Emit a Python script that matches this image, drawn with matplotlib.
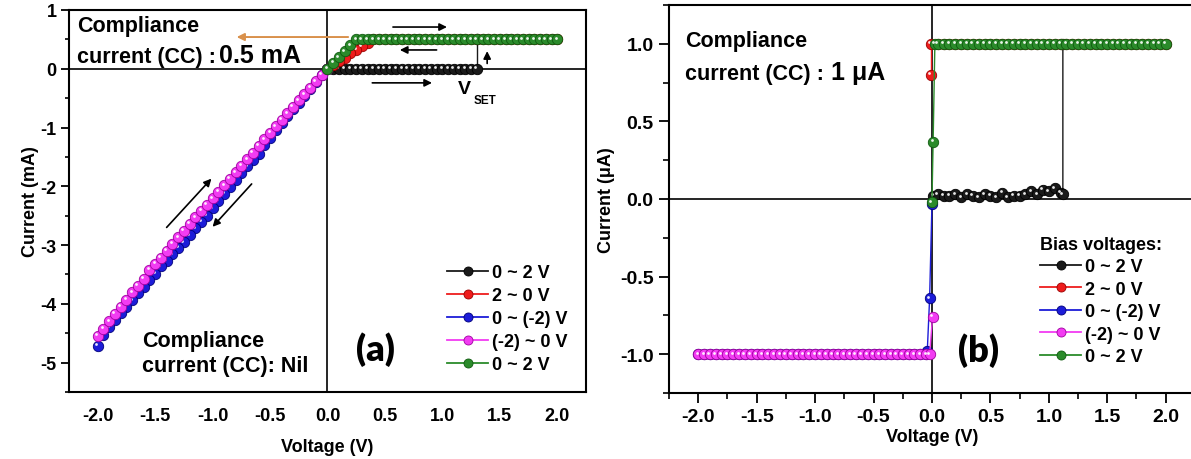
import matplotlib
matplotlib.use('Agg')
import matplotlib.pyplot as plt
from matplotlib.lines import Line2D
from matplotlib.ticker import MultipleLocator
from matplotlib.transforms import offset_copy

plt.rcParams['font.family'] = ['Liberation Sans', 'DejaVu Sans']
plt.rcParams['font.weight'] = 'bold'
plt.rcParams['axes.labelweight'] = 'bold'

# ---------------- data ----------------
sweep_labels = ['0 ~ 2 V', '2 ~ 0 V', '0 ~ (-2) V', '(-2) ~ 0 V', '0 ~ 2 V']
colors = ['#1a1a1a', '#ee1c1c', '#1c1cd8', '#f23cf2', '#2b8b2b']
edge_colors = ['#000000', '#9a0000', '#00007a', '#a000a0', '#0f5a0f']

# panel (a): current in mA, compliance 0.5 mA
a_black_v = [0.00, 0.05, 0.10, 0.15, 0.20, 0.25, 0.30, 0.35, 0.40, 0.45, 0.50, 0.55, 0.60, 0.65,
             0.70, 0.75, 0.80, 0.85, 0.90, 0.95, 1.00, 1.05, 1.10, 1.15, 1.20, 1.25, 1.30, 1.30]
a_black_i = [0.00, 0.00, 0.00, 0.00, 0.00, 0.00, 0.00, 0.00, 0.00, 0.00, 0.00, 0.00, 0.00, 0.00,
             0.00, 0.00, 0.00, 0.00, 0.00, 0.00, 0.00, 0.00, 0.00, 0.00, 0.00, 0.00, 0.00, 0.50]

a_red_v = [2.00, 1.95, 1.90, 1.85, 1.80, 1.75, 1.70, 1.65, 1.60, 1.55, 1.50, 1.45, 1.40, 1.35,
           1.30, 1.25, 1.20, 1.15, 1.10, 1.05, 1.00, 0.95, 0.90, 0.85, 0.80, 0.75, 0.70, 0.65,
           0.60, 0.55, 0.50, 0.45, 0.40, 0.35, 0.30, 0.25, 0.20, 0.15, 0.10, 0.05, 0.00]
a_red_i = [0.50, 0.50, 0.50, 0.50, 0.50, 0.50, 0.50, 0.50, 0.50, 0.50, 0.50, 0.50, 0.50, 0.50,
           0.50, 0.50, 0.50, 0.50, 0.50, 0.50, 0.50, 0.50, 0.50, 0.50, 0.50, 0.50, 0.50, 0.50,
           0.50, 0.50, 0.50, 0.50, 0.50, 0.44, 0.38, 0.32, 0.26, 0.19, 0.13, 0.06, 0.00]

a_blue_v = [0.00, -0.05, -0.10, -0.15, -0.20, -0.25, -0.30, -0.35, -0.40, -0.45, -0.50, -0.55,
            -0.60, -0.65, -0.70, -0.75, -0.80, -0.85, -0.90, -0.95, -1.00, -1.05, -1.10, -1.15,
            -1.20, -1.25, -1.30, -1.35, -1.40, -1.45, -1.50, -1.55, -1.60, -1.65, -1.70, -1.75,
            -1.80, -1.85, -1.90, -1.95, -2.00]
a_blue_i = [0.00, -0.11, -0.23, -0.34, -0.46, -0.58, -0.69, -0.80, -0.93, -1.05, -1.17, -1.29,
            -1.45, -1.55, -1.66, -1.77, -1.90, -2.02, -2.13, -2.25, -2.37, -2.50, -2.60, -2.71,
            -2.83, -2.95, -3.05, -3.16, -3.27, -3.36, -3.49, -3.60, -3.72, -3.82, -3.94, -4.05,
            -4.16, -4.28, -4.40, -4.53, -4.71]

a_mag_v = [-2.00, -1.95, -1.90, -1.85, -1.80, -1.75, -1.70, -1.65, -1.60, -1.55, -1.50, -1.45,
           -1.40, -1.35, -1.30, -1.25, -1.20, -1.15, -1.10, -1.05, -1.00, -0.95, -0.90, -0.85,
           -0.80, -0.75, -0.70, -0.65, -0.60, -0.55, -0.50, -0.45, -0.40, -0.35, -0.30, -0.25,
           -0.20, -0.15, -0.10, -0.05, 0.00]
a_mag_i = [-4.54, -4.42, -4.30, -4.17, -4.05, -3.93, -3.80, -3.69, -3.57, -3.42, -3.32, -3.22,
           -3.10, -2.98, -2.87, -2.76, -2.64, -2.53, -2.42, -2.31, -2.20, -2.09, -1.98, -1.87,
           -1.76, -1.65, -1.54, -1.43, -1.31, -1.20, -1.09, -0.98, -0.87, -0.76, -0.65, -0.54,
           -0.43, -0.32, -0.21, -0.10, 0.00]

a_green_v = [0.00, 0.05, 0.10, 0.15, 0.20, 0.25, 0.30, 0.35, 0.40, 0.45, 0.50, 0.55, 0.60, 0.65,
             0.70, 0.75, 0.80, 0.85, 0.90, 0.95, 1.00, 1.05, 1.10, 1.15, 1.20, 1.25, 1.30, 1.35,
             1.40, 1.45, 1.50, 1.55, 1.60, 1.65, 1.70, 1.75, 1.80, 1.85, 1.90, 1.95, 2.00]
a_green_i = [0.00, 0.10, 0.20, 0.30, 0.40, 0.50, 0.50, 0.50, 0.50, 0.50, 0.50, 0.50, 0.50, 0.50,
             0.50, 0.50, 0.50, 0.50, 0.50, 0.50, 0.50, 0.50, 0.50, 0.50, 0.50, 0.50, 0.50, 0.50,
             0.50, 0.50, 0.50, 0.50, 0.50, 0.50, 0.50, 0.50, 0.50, 0.50, 0.50, 0.50, 0.50]

# panel (b): current in uA, compliance 1 uA
b_black_v = [0.01, 0.05, 0.10, 0.15, 0.20, 0.25, 0.30, 0.35, 0.40, 0.45, 0.50, 0.55, 0.60,
             0.65, 0.70, 0.75, 0.80, 0.85, 0.90, 0.95, 1.00, 1.05, 1.10, 1.12, 1.12]
b_black_i = [0.02, 0.03, 0.02, 0.02, 0.03, 0.01, 0.03, 0.02, 0.01, 0.03, 0.02, 0.01, 0.04,
             0.01, 0.02, 0.02, 0.03, 0.05, 0.03, 0.06, 0.05, 0.07, 0.04, 0.03, 1.00]

b_red_v = [2.00, 1.95, 1.90, 1.85, 1.80, 1.75, 1.70, 1.65, 1.60, 1.55, 1.50, 1.45, 1.40, 1.35,
           1.30, 1.25, 1.20, 1.15, 1.10, 1.05, 1.00, 0.95, 0.90, 0.85, 0.80, 0.75, 0.70, 0.65,
           0.60, 0.55, 0.50, 0.45, 0.40, 0.35, 0.30, 0.25, 0.20, 0.15, 0.10, 0.05, -0.01, -0.01]
b_red_i = [1.00, 1.00, 1.00, 1.00, 1.00, 1.00, 1.00, 1.00, 1.00, 1.00, 1.00, 1.00, 1.00, 1.00,
           1.00, 1.00, 1.00, 1.00, 1.00, 1.00, 1.00, 1.00, 1.00, 1.00, 1.00, 1.00, 1.00, 1.00,
           1.00, 1.00, 1.00, 1.00, 1.00, 1.00, 1.00, 1.00, 1.00, 1.00, 1.00, 1.00, 1.00, 0.80]

b_blue_v = [0.00, -0.02, -0.04, -0.05, -0.10, -0.15, -0.20, -0.25, -0.30, -0.35, -0.40, -0.45,
            -0.50, -0.55, -0.60, -0.65, -0.70, -0.75, -0.80, -0.85, -0.90, -0.95, -1.00, -1.05,
            -1.10, -1.15, -1.20, -1.25, -1.30, -1.35, -1.40, -1.45, -1.50, -1.55, -1.60, -1.65,
            -1.70, -1.75, -1.80, -1.85, -1.90, -1.95, -2.00]
b_blue_i = [-0.03, -0.64, -0.98, -1.00, -1.00, -1.00, -1.00, -1.00, -1.00, -1.00, -1.00, -1.00,
            -1.00, -1.00, -1.00, -1.00, -1.00, -1.00, -1.00, -1.00, -1.00, -1.00, -1.00, -1.00,
            -1.00, -1.00, -1.00, -1.00, -1.00, -1.00, -1.00, -1.00, -1.00, -1.00, -1.00, -1.00,
            -1.00, -1.00, -1.00, -1.00, -1.00, -1.00, -1.00]

b_mag_v = [-2.00, -1.95, -1.90, -1.85, -1.80, -1.75, -1.70, -1.65, -1.60, -1.55, -1.50, -1.45,
           -1.40, -1.35, -1.30, -1.25, -1.20, -1.15, -1.10, -1.05, -1.00, -0.95, -0.90, -0.85,
           -0.80, -0.75, -0.70, -0.65, -0.60, -0.55, -0.50, -0.45, -0.40, -0.35, -0.30, -0.25,
           -0.20, -0.15, -0.10, -0.05, -0.02, 0.005]
b_mag_i = [-1.00, -1.00, -1.00, -1.00, -1.00, -1.00, -1.00, -1.00, -1.00, -1.00, -1.00, -1.00,
           -1.00, -1.00, -1.00, -1.00, -1.00, -1.00, -1.00, -1.00, -1.00, -1.00, -1.00, -1.00,
           -1.00, -1.00, -1.00, -1.00, -1.00, -1.00, -1.00, -1.00, -1.00, -1.00, -1.00, -1.00,
           -1.00, -1.00, -1.00, -1.00, -1.00, -0.76]

b_green_v = [0.00, 0.01, 0.025, 0.05, 0.10, 0.15, 0.20, 0.25, 0.30, 0.35, 0.40, 0.45, 0.50,
             0.55, 0.60, 0.65, 0.70, 0.75, 0.80, 0.85, 0.90, 0.95, 1.00, 1.05, 1.10, 1.15,
             1.20, 1.25, 1.30, 1.35, 1.40, 1.45, 1.50, 1.55, 1.60, 1.65, 1.70, 1.75, 1.80,
             1.85, 1.90, 1.95, 2.00]
b_green_i = [-0.02, 0.37, 1.00, 1.00, 1.00, 1.00, 1.00, 1.00, 1.00, 1.00, 1.00, 1.00, 1.00,
             1.00, 1.00, 1.00, 1.00, 1.00, 1.00, 1.00, 1.00, 1.00, 1.00, 1.00, 1.00, 1.00,
             1.00, 1.00, 1.00, 1.00, 1.00, 1.00, 1.00, 1.00, 1.00, 1.00, 1.00, 1.00, 1.00,
             1.00, 1.00, 1.00, 1.00]

a_series = [(a_black_v, a_black_i), (a_red_v, a_red_i), (a_blue_v, a_blue_i),
            (a_mag_v, a_mag_i), (a_green_v, a_green_i)]
b_series = [(b_black_v, b_black_i), (b_red_v, b_red_i), (b_blue_v, b_blue_i),
            (b_mag_v, b_mag_i), (b_green_v, b_green_i)]

MS = 7.5


def draw_sweeps(ax, series):
    shine = offset_copy(ax.transData, fig=ax.figure, x=-1.5, y=1.5, units='dots')
    handles = []
    for (v, i), c, ec, lab in zip(series, colors, edge_colors, sweep_labels):
        ax.plot(v, i, '-o', color=c, lw=1.0, ms=MS, mfc=c, mec=ec, mew=0.6, label=lab)
        ax.plot(v, i, 'o', ms=2.0, color='white', mec='none', alpha=0.9, transform=shine)
        handles.append(Line2D([], [], color=c, lw=1.3, marker='o', ms=6.5, mfc=c, mec=ec, mew=0.6))
    return handles


def arrow(ax, start, end, color='black', lw=1.2):
    ax.annotate('', xy=end, xytext=start,
                arrowprops=dict(arrowstyle='-|>', color=color, lw=lw, mutation_scale=11,
                                shrinkA=0, shrinkB=0))


fig = plt.figure(figsize=(11.91, 4.6), dpi=100)

# ---------------- panel (a) ----------------
ax1 = fig.add_axes([0.0579, 0.1457, 0.4341, 0.8304])
ax1.axhline(0, color='black', lw=1.2, zorder=1)
ax1.axvline(0, color='black', lw=1.2, zorder=1)
h1 = draw_sweeps(ax1, a_series)
ax1.set_xlim(-2.25, 2.25)
ax1.set_ylim(-5.5, 1.0)
ax1.yaxis.set_minor_locator(MultipleLocator(0.5))
ax1.set_yticks([1, 0, -1, -2, -3, -4, -5])
ax1.set_yticklabels(['1', '0', '-1', '-2', '-3', '-4', '-5'])
ax1.set_xticks([-2, -1.5, -1, -0.5, 0, 0.5, 1, 1.5, 2])
ax1.set_xticklabels(['-2.0', '-1.5', '-1.0', '-0.5', '0.0', '0.5', '1.0', '1.5', '2.0'])
ax1.tick_params(axis='y', which='major', direction='out', length=6, width=1.3, labelsize=13, pad=3)
ax1.tick_params(axis='y', which='minor', direction='out', length=3, width=1.2)
ax1.tick_params(axis='x', which='both', length=0, labelsize=13, pad=11)
for s in ax1.spines.values():
    s.set_linewidth(1.5)
ax1.set_xlabel('Voltage (V)', fontsize=13, labelpad=10)
ax1.set_ylabel('Current (mA)', fontsize=13, labelpad=1)

ax1.text(-2.18, 0.65, 'Compliance', fontsize=15.5, va='baseline')
ax1.text(-2.18, 0.12, 'current (CC) :', fontsize=15.5, va='baseline')
ax1.text(-0.94, 0.12, '0.5 mA', fontsize=18, va='baseline')
ax1.text(-1.61, -4.71, 'Compliance', fontsize=15.5, va='baseline')
ax1.text(-1.61, -5.15, 'current (CC): Nil', fontsize=15.5, va='baseline')
ax1.text(0.42, -4.77, '(a)', fontsize=26, family='Lato', fontweight='heavy', ha='center', va='center')
ax1.text(1.19, -0.34, 'V', fontsize=14, ha='center', va='center')
ax1.text(1.37, -0.53, 'SET', fontsize=8.5, ha='center', va='center')

arrow(ax1, (0.18, 0.54), (-0.79, 0.54), color='#d9914c', lw=1.4)
arrow(ax1, (0.57, 0.71), (1.04, 0.71))
arrow(ax1, (0.95, 0.32), (0.63, 0.32))
arrow(ax1, (1.39, 0.09), (1.39, 0.30))
arrow(ax1, (0.39, -0.24), (0.91, -0.24))
arrow(ax1, (-1.40, -2.70), (-1.01, -1.87))
arrow(ax1, (-0.66, -1.96), (-1.00, -2.69))

ax1.legend(h1, sweep_labels, loc='upper left', bbox_to_anchor=(0.731, 0.335), frameon=False,
           fontsize=13, handlelength=2.3, handletextpad=0.2, labelspacing=0.33,
           borderpad=0, borderaxespad=0)

# ---------------- panel (b) ----------------
ax2 = fig.add_axes([0.5617, 0.1435, 0.4416, 0.8435])
ax2.axhline(0, color='black', lw=1.2, zorder=1)
ax2.axvline(0, color='black', lw=1.2, zorder=1)
h2 = draw_sweeps(ax2, b_series)
ax2.set_xlim(-2.25, 2.25)
ax2.set_ylim(-1.25, 1.25)
ax2.set_xticks([-2, -1.5, -1, -0.5, 0, 0.5, 1, 1.5, 2])
ax2.set_xticklabels(['-2.0', '-1.5', '-1.0', '-0.5', '0.0', '0.5', '1.0', '1.5', '2.0'])
ax2.set_yticks([1, 0.5, 0, -0.5, -1])
ax2.set_yticklabels(['1.0', '0.5', '0.0', '-0.5', '-1.0'])
ax2.xaxis.set_minor_locator(MultipleLocator(0.25))
ax2.yaxis.set_minor_locator(MultipleLocator(0.25))
ax2.tick_params(which='major', direction='out', length=7, width=1.3, labelsize=14, pad=4)
ax2.tick_params(which='minor', direction='out', length=4, width=1.2)
for s in ax2.spines.values():
    s.set_linewidth(1.5)
ax2.set_xlabel('Voltage (V)', fontsize=13, labelpad=2)
ax2.set_ylabel('Current (\u03bcA)', fontsize=13, labelpad=4)

ax2.text(-2.11, 1.02, 'Compliance', fontsize=15.5, va='center')
ax2.text(-2.11, 0.81, 'current (CC) :', fontsize=15.5, va='center')
ax2.text(-0.865, 0.82, '1 \u03bcA', fontsize=18, va='center')
ax2.text(0.40, -0.97, '(b)', fontsize=26, family='Lato', fontweight='heavy', ha='center', va='center')

ax2.legend(h2, sweep_labels, loc='upper left', bbox_to_anchor=(0.705, 0.405), frameon=False,
           fontsize=13, handlelength=2.3, handletextpad=0.2, labelspacing=0.3,
           borderpad=0, borderaxespad=0, title='Bias voltages:', alignment='left',
           title_fontproperties={'size': 13, 'weight': 'bold'})

plt.savefig('out.png', dpi=100)
plt.close()
